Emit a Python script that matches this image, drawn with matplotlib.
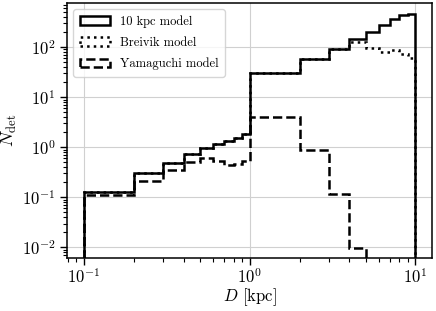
import numpy as np
import matplotlib as mpl
import matplotlib.pyplot as plt
from matplotlib.ticker import LogLocator, NullFormatter

mpl.rcParams['font.family'] = 'serif'
mpl.rcParams['font.serif'] = ['cmr10']
mpl.rcParams['mathtext.fontset'] = 'cm'
mpl.rcParams['axes.formatter.use_mathtext'] = True
mpl.rcParams['axes.unicode_minus'] = False

# bin edges in kpc
edges = [0.1, 0.2, 0.3, 0.4, 0.5, 0.6, 0.7, 0.8, 0.9, 1.0,
         2.0, 3.0, 4.0, 5.0, 6.0, 7.0, 8.0, 9.0, 10.0]

n_10kpc = [0.13, 0.30, 0.49, 0.73, 0.95, 1.15, 1.34, 1.56, 1.85,
           31, 58, 94, 143, 200, 278, 360, 448, 452]
n_breivik = [0.13, 0.30, 0.49, 0.73, 0.95, 1.15, 1.34, 1.56, 1.85,
             31, 58, 94, 128, 95, 82, 86, 72, 60]
n_yamaguchi = [0.111, 0.215, 0.35, 0.50, 0.62, 0.54, 0.44, 0.46, 0.53,
               4.0, 0.88, 0.115, 0.0098, 0, 0, 0, 0, 0]

centers = [np.sqrt(a * b) for a, b in zip(edges[:-1], edges[1:])]

fig = plt.figure(figsize=(4.36, 3.11), dpi=100)
ax = fig.add_axes([0.154, 0.170, 0.837, 0.820])

ax.hist(centers, bins=edges, weights=n_10kpc, histtype='step',
        color='k', lw=1.8, ls='-', label='10 kpc model')
ax.hist(centers, bins=edges, weights=n_breivik, histtype='step',
        color='k', lw=1.8, ls=':', label='Breivik model')
ax.hist(centers, bins=edges, weights=n_yamaguchi, histtype='step',
        color='k', lw=1.8, ls='--', label='Yamaguchi model')

ax.set_xscale('log')
ax.set_yscale('log', nonpositive='clip')
ax.set_xlim(10 ** -1.1, 10 ** 1.1)
ax.set_ylim(6.1e-3, 7.6e2)

ax.yaxis.set_major_locator(LogLocator(base=10, numticks=10))
ax.yaxis.set_minor_locator(LogLocator(base=10, subs=np.arange(2, 10), numticks=20))
ax.yaxis.set_minor_formatter(NullFormatter())
ax.xaxis.set_minor_locator(LogLocator(base=10, subs=np.arange(2, 10), numticks=20))
ax.xaxis.set_minor_formatter(NullFormatter())

ax.grid(True, which='major', color='#d0d0d0', lw=0.8)
ax.set_axisbelow(True)
ax.tick_params(which='major', direction='out', length=5, width=1, labelsize=12)
ax.tick_params(axis='x', which='major', pad=1.5)
ax.tick_params(which='minor', direction='out', length=3, width=0.8)
for s in ax.spines.values():
    s.set_linewidth(1.1)

ax.set_xlabel(r'$D$ [kpc]', fontsize=12, labelpad=0)
ax.set_ylabel(r'$N_{\rm det}$', fontsize=13, labelpad=2)

ax.legend(loc='upper left', fontsize=9, handlelength=2.4, labelspacing=0.7,
          borderpad=0.5)

plt.savefig('out.png', dpi=100)
